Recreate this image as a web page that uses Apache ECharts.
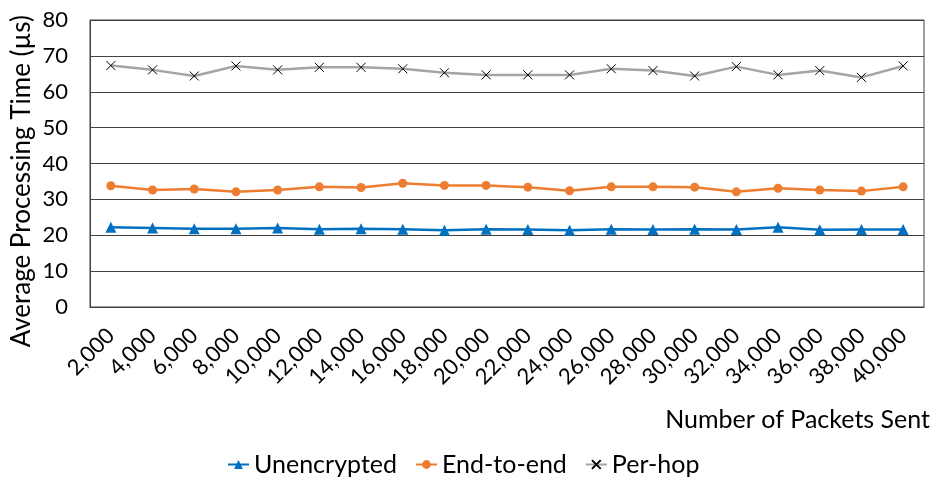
<!DOCTYPE html>
<html>
<head>
<meta charset="utf-8">
<script src="https://cdn.jsdelivr.net/npm/echarts@6/dist/echarts.min.js"></script>
<style>
  html, body { margin: 0; padding: 0; background: #fff; }
  #chart { width: 934px; height: 477px; }
</style>
</head>
<body>
<div id="chart"></div>
<script>
// Packets sent per run
const packetCounts = ['2,000','4,000','6,000','8,000','10,000','12,000','14,000','16,000','18,000','20,000',
  '22,000','24,000','26,000','28,000','30,000','32,000','34,000','36,000','38,000','40,000'];

// Average processing time per packet (µs)
const unencrypted = [22.2, 22.0, 21.8, 21.8, 22.0, 21.7, 21.8, 21.7, 21.4, 21.7,
  21.6, 21.4, 21.7, 21.6, 21.7, 21.6, 22.2, 21.5, 21.6, 21.6];
const endToEnd = [33.8, 32.6, 32.9, 32.1, 32.6, 33.5, 33.3, 34.5, 33.9, 33.9,
  33.4, 32.4, 33.5, 33.5, 33.4, 32.1, 33.1, 32.6, 32.3, 33.5];
const perHop = [67.3, 66.1, 64.4, 67.2, 66.1, 66.8, 66.8, 66.4, 65.3, 64.7,
  64.7, 64.7, 66.4, 65.9, 64.4, 67.0, 64.7, 65.9, 64.0, 67.2];

const FONT = 'Lato, "Open Sans", sans-serif';
const crossPath = 'path://M0,0L10,10M10,0L0,10';

const chart = echarts.init(document.getElementById('chart'), null, { renderer: 'canvas' });
chart.setOption({
  backgroundColor: '#fff',
  animation: false,
  grid: { left: 90, right: 10, top: 20, bottom: 170, show: true, borderColor: '#404040', borderWidth: 1 },
  xAxis: {
    type: 'category',
    data: packetCounts,
    boundaryGap: true,
    axisLine: { lineStyle: { color: '#404040', width: 1 } },
    axisTick: { show: false },
    axisLabel: { rotate: 45, margin: 25, color: '#000', fontFamily: FONT, fontSize: 22, interval: 0 }
  },
  yAxis: {
    type: 'value',
    min: 0, max: 80, interval: 10,
    axisLine: { show: true, lineStyle: { color: '#404040', width: 1 } },
    axisTick: { show: false },
    splitLine: { lineStyle: { color: '#404040', width: 1 } },
    axisLabel: { margin: 22, color: '#000', fontFamily: FONT, fontSize: 22 }
  },
  legend: {
    left: 222, top: 447,
    itemGap: 18, itemWidth: 21, itemHeight: 11,
    textStyle: { color: '#000', fontFamily: FONT, fontSize: 25 },
    data: ['Unencrypted', 'End-to-end', 'Per-hop']
  },
  graphic: [
    {
      type: 'text', left: 9, top: 15, rotation: Math.PI / 2,
      style: { text: 'Average Processing Time (µs)', fill: '#000', font: '26px ' + FONT }
    },
    {
      type: 'text', right: 4, top: 407,
      style: { text: 'Number of Packets Sent', fill: '#000', font: '25px ' + FONT }
    }
  ],
  series: [
    {
      name: 'Unencrypted', type: 'line', data: unencrypted,
      symbol: 'triangle', symbolSize: 11,
      lineStyle: { color: '#0070C0', width: 2.5 },
      itemStyle: { color: '#0070C0' }
    },
    {
      name: 'End-to-end', type: 'line', data: endToEnd,
      symbol: 'circle', symbolSize: 9,
      lineStyle: { color: '#ED7D31', width: 2.5 },
      itemStyle: { color: '#ED7D31' }
    },
    {
      name: 'Per-hop', type: 'line', data: perHop,
      symbol: crossPath, symbolSize: 9,
      lineStyle: { color: '#A5A5A5', width: 2.5 },
      itemStyle: { color: '#A5A5A5', borderColor: '#000', borderWidth: 1 }
    }
  ]
});
</script>
</body>
</html>
